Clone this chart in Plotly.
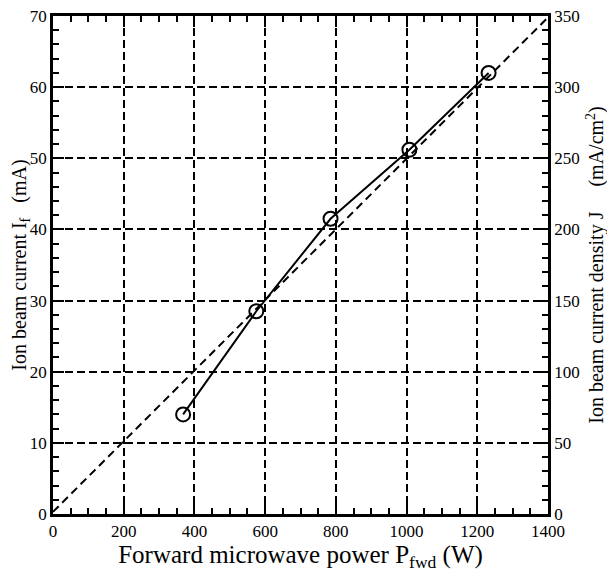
import plotly.graph_objects as go

# Data
power_w = [368, 575, 785, 1008, 1232]
current_ma = [14.0, 28.5, 41.5, 51.2, 62.0]
fit_power_w = [0, 1400]
fit_current_ma = [0.3, 69.8]

x_range = [0, 1400]
y_range = [0, 70]
y2_range = [0, 350]

font_family = "Liberation Serif"
NB = "\u00a0"

fig = go.Figure()
fig.add_trace(go.Scatter(
    x=fit_power_w, y=fit_current_ma, mode="lines",
    line=dict(color="black", width=2, dash="8px,5px"), showlegend=False))
fig.add_trace(go.Scatter(
    x=power_w, y=current_ma, mode="lines+markers",
    line=dict(color="black", width=2),
    marker=dict(symbol="circle-open", size=14, color="black", line=dict(width=2)),
    showlegend=False))
# invisible traces to activate the right axis and the minor-tick overlay axes
fig.add_trace(go.Scatter(x=[0], y=[0], yaxis="y2", mode="markers",
                         marker=dict(opacity=0), showlegend=False, hoverinfo="skip"))
fig.add_trace(go.Scatter(x=[0], y=[0], xaxis="x2", yaxis="y3", mode="markers",
                         marker=dict(opacity=0), showlegend=False, hoverinfo="skip"))

tickfont = dict(family=font_family, size=17, color="black")
axis_common = dict(
    showline=True, linecolor="black", linewidth=2.5,
    ticks="inside", ticklen=11, tickwidth=2, tickcolor="black",
    showgrid=True, gridcolor="black", gridwidth=1.5, griddash="8px,4px",
    zeroline=False, automargin=False, tickfont=tickfont,
    ticklabeloverflow="allow",
)
minor_common = dict(
    showline=False, ticks="inside", ticklen=6, tickwidth=2, tickcolor="black",
    showgrid=False, zeroline=False, showticklabels=False, automargin=False,
    mirror="ticks",
)

fig.update_layout(
    width=607, height=571,
    margin=dict(l=45, r=67, t=8, b=65),
    paper_bgcolor="white", plot_bgcolor="white",
    font=dict(family=font_family, color="black"),
    xaxis=dict(
        range=x_range, tick0=0, dtick=200, mirror="ticks",
        title=dict(text="Forward microwave power P<sub>fwd</sub> (W)",
                   font=dict(family=font_family, size=25), standoff=0),
        **axis_common),
    yaxis=dict(
        range=y_range, tick0=0, dtick=10,
        title=dict(text=NB * 5 + "Ion beam current I<sub>f</sub>" + NB * 3 + "(mA)",
                   font=dict(family=font_family, size=20), standoff=1),
        **axis_common),
    yaxis2=dict(
        range=y2_range, tick0=0, dtick=50, overlaying="y", side="right",
        showline=True, linecolor="black", linewidth=2.5,
        ticks="inside", ticklen=11, tickwidth=2, tickcolor="black",
        showgrid=False, zeroline=False, automargin=False, tickfont=tickfont,
        ticklabeloverflow="allow",
        title=dict(text=NB * 3 + "Ion beam current density J" + NB * 5 + "(mA/cm<sup>2</sup>)",
                   font=dict(family=font_family, size=20), standoff=11),
    ),
    xaxis2=dict(range=x_range, tick0=0, dtick=50, overlaying="x", side="bottom",
                **minor_common),
    yaxis3=dict(range=y_range, tick0=0, dtick=2, overlaying="y", side="left",
                anchor="x2", **minor_common),
)

fig.write_html("out.html")
